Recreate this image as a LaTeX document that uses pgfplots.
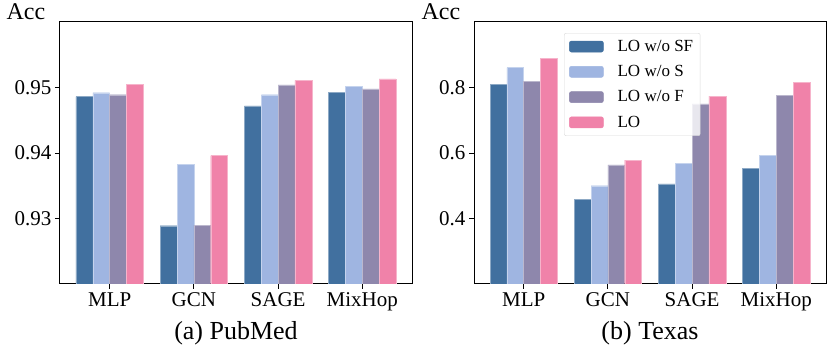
\documentclass[border=0pt]{standalone}
\usepackage{pgfplots}
\pgfplotsset{compat=1.18}
\usepackage{fontspec}
\setmainfont{Liberation Serif}

\definecolor{cSF}{HTML}{41709F}
\definecolor{cS}{HTML}{9FB5E1}
\definecolor{cF}{HTML}{8E87AC}
\definecolor{cLO}{HTML}{F082A9}

\pgfplotsset{
  panel/.style={
    scale only axis, width=352pt, height=262pt,
    clip mode=individual,
    xmin=-0.59, xmax=3.59,
    xtick={0,1,2,3}, xticklabels={MLP,GCN,SAGE,MixHop},
    xtick pos=bottom, ytick pos=left,
    tick align=outside, major tick length=5pt,
    tick style={black, line width=0.8pt},
    axis line style={line width=1pt},
    ticklabel style={font=\fontsize{21}{24}\selectfont},
  },
  bars/.style 2 args={ybar, bar width=0.2, bar shift=#2, fill=#1,
    draw=white!40!#1, line width=0.4pt,
    legend image code/.code={\fill[#1, fill opacity=1] (0pt,-5.5pt) rectangle (34pt,5.5pt);}},
}

\begin{document}
\begin{tikzpicture}
\path[use as bounding box] (-60pt,-64pt) rectangle (771pt,284pt);

% (a) PubMed
\begin{axis}[panel, at={(0pt,0pt)}, anchor=south west,
  ymin=0.92, ymax=0.96,
  ytick={0.93,0.94,0.95}, yticklabels={0.93,0.94,0.95}]
\addplot[bars={cSF}{-0.3}] coordinates {(0,0.9486) (1,0.9289) (2,0.9472) (3,0.9493)};
\addplot[bars={cS}{-0.1}]  coordinates {(0,0.9492) (1,0.9383) (2,0.9489) (3,0.9502)};
\addplot[bars={cF}{0.1}]   coordinates {(0,0.9489) (1,0.9290) (2,0.9504) (3,0.9498)};
\addplot[bars={cLO}{0.3}]  coordinates {(0,0.9505) (1,0.9396) (2,0.9511) (3,0.9513)};
\node[anchor=base west, font=\fontsize{24}{26}\selectfont]
  at ([xshift=-57pt,yshift=2pt]rel axis cs:0,1) {Acc};
\node[anchor=base, font=\fontsize{26}{28}\selectfont]
  at ([yshift=-56pt]rel axis cs:0.5,0) {(a) PubMed};
\end{axis}

% (b) Texas
\begin{axis}[panel, at={(414pt,0pt)}, anchor=south west,
  ymin=0.2, ymax=1.0,
  ytick={0.4,0.6,0.8}, yticklabels={0.4,0.6,0.8},
  legend cell align=left,
  legend style={at={(axis description cs:0.2557,0.958)}, anchor=north west,
    draw=black!15, rounded corners=2pt, fill=white, fill opacity=0.8,
    text opacity=1, font=\fontsize{17}{19}\selectfont,
    inner xsep=5pt, inner ysep=5pt, row sep=8.5pt,
    /tikz/every odd column/.append style={column sep=12pt}}]
\addplot[bars={cSF}{-0.3}] coordinates {(0,0.810) (1,0.459) (2,0.506) (3,0.553)};
\addlegendentry{LO w/o SF}
\addplot[bars={cS}{-0.1}]  coordinates {(0,0.861) (1,0.500) (2,0.569) (3,0.592)};
\addlegendentry{LO w/o S}
\addplot[bars={cF}{0.1}]   coordinates {(0,0.818) (1,0.564) (2,0.750) (3,0.776)};
\addlegendentry{LO w/o F}
\addplot[bars={cLO}{0.3}]  coordinates {(0,0.889) (1,0.578) (2,0.774) (3,0.816)};
\addlegendentry{LO}
\node[anchor=base west, font=\fontsize{24}{26}\selectfont]
  at ([xshift=-56pt,yshift=2pt]rel axis cs:0,1) {Acc};
\node[anchor=base, font=\fontsize{26}{28}\selectfont]
  at ([yshift=-56pt]rel axis cs:0.5,0) {(b) Texas};
\end{axis}
\end{tikzpicture}
\end{document}
